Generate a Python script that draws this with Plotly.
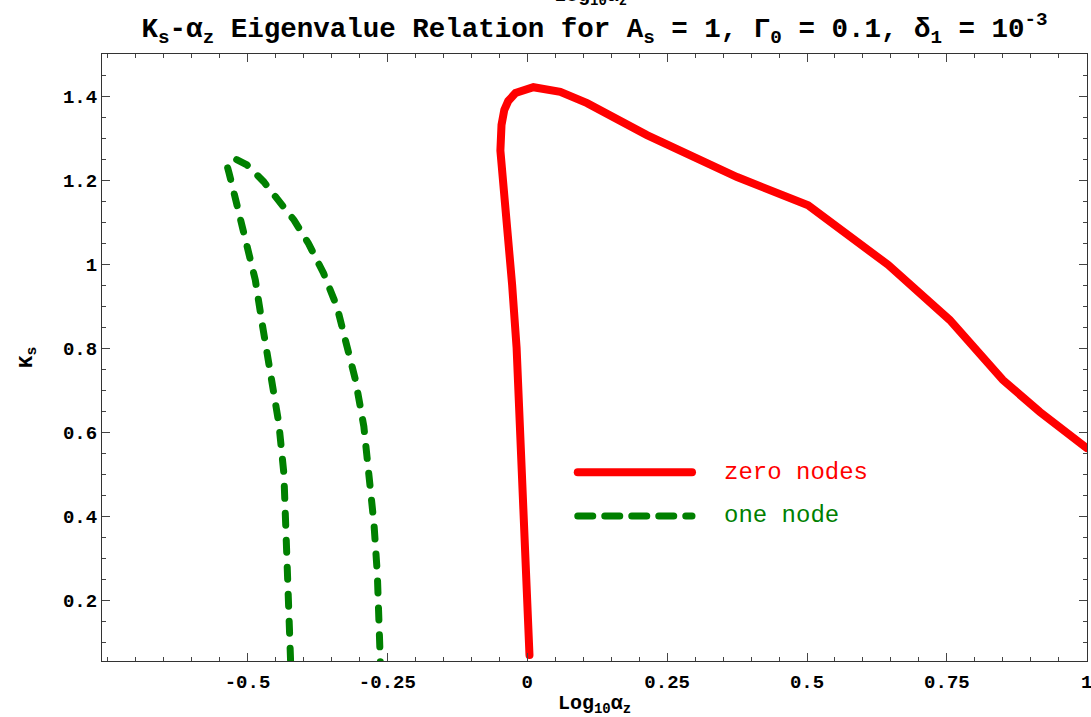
import plotly.graph_objects as go

# ---- data ----
zero_x = [0.004, 0.0, -0.005, -0.011, -0.019, -0.027, -0.036, -0.044, -0.048, -0.046,
          -0.041, -0.034, -0.021, 0.011, 0.059, 0.107, 0.214, 0.375, 0.502, 0.645,
          0.755, 0.850, 0.916, 1.0]
zero_y = [0.069, 0.200, 0.390, 0.600, 0.800, 0.950, 1.090, 1.200, 1.270, 1.331,
          1.367, 1.388, 1.407, 1.421, 1.410, 1.383, 1.307, 1.207, 1.140, 0.998,
          0.867, 0.724, 0.648, 0.562]

one_x = [-0.423, -0.426, -0.429, -0.435, -0.444, -0.453, -0.465, -0.474, -0.486, -0.498,
         -0.513, -0.524, -0.533, -0.536, -0.524, -0.501, -0.471, -0.441, -0.417, -0.391,
         -0.364, -0.340, -0.322, -0.307, -0.292, -0.283, -0.274, -0.268, -0.264, -0.2625]
one_y = [0.057, 0.184, 0.343, 0.502, 0.621, 0.700, 0.779, 0.860, 0.962, 1.033,
         1.113, 1.169, 1.217, 1.232, 1.252, 1.236, 1.196, 1.148, 1.105, 1.049,
         0.978, 0.898, 0.811, 0.724, 0.613, 0.502, 0.383, 0.264, 0.145, 0.050]

x_tickvals = [-0.5, -0.25, 0, 0.25, 0.5, 0.75, 1]
x_ticktext = ["-0.5", "-0.25", "0", "0.25", "0.5", "0.75", "1"]
y_tickvals = [0.2, 0.4, 0.6, 0.8, 1.0, 1.2, 1.4]
y_ticktext = ["0.2", "0.4", "0.6", "0.8", "1", "1.2", "1.4"]

series_names = ["zero nodes", "one node"]

RED = "#ff0000"
GREEN = "#008000"
MONO = "Liberation Mono"

fig = go.Figure()
fig.add_trace(go.Scatter(x=zero_x, y=zero_y, mode="lines", name=series_names[0],
                         line=dict(color=RED, width=8), showlegend=False))
fig.add_trace(go.Scatter(x=one_x, y=one_y, mode="lines", name=series_names[1],
                         line=dict(color=GREEN, width=7, dash="12px,15px"), showlegend=False))

axis_common = dict(
    showgrid=False, zeroline=False, showline=True, linecolor="#333333", linewidth=1.2,
    mirror="allticks", ticks="inside", ticklen=8, tickwidth=1, tickcolor="#444444",
    ticklabeloverflow="allow", automargin=False,
    tickfont=dict(family=MONO, size=19, color="black", weight="bold"),
)

fig.update_xaxes(
    range=[-0.76, 1.0004], tickmode="array", tickvals=x_tickvals, ticktext=x_ticktext,
    ticklabelstandoff=3,
    minor=dict(tickmode="linear", tick0=0, dtick=0.05, ticks="inside", ticklen=4,
               tickcolor="#444444", tickwidth=1),
    title=dict(text="Log<sub>10</sub>α<sub>z</sub>", standoff=2,
               font=dict(family=MONO, size=20, color="black", weight="bold")),
    **axis_common)
fig.update_yaxes(
    range=[0.055, 1.5], tickmode="array", tickvals=y_tickvals, ticktext=y_ticktext,
    minor=dict(tickmode="linear", tick0=0, dtick=0.05, ticks="inside", ticklen=4,
               tickcolor="#444444", tickwidth=1),
    title=dict(text="K<sub>s</sub>", standoff=24,
               font=dict(family=MONO, size=21, color="black", weight="bold")),
    **axis_common)

# legend drawn as shapes + text (paper coords)
fig.add_shape(type="line", xref="paper", yref="paper", x0=0.483, x1=0.599, y0=0.311, y1=0.311,
              line=dict(color=RED, width=8))
fig.add_shape(type="line", xref="paper", yref="paper", x0=0.483, x1=0.599, y0=0.239, y1=0.239,
              line=dict(color=GREEN, width=7, dash="15px,12px"))
fig.add_annotation(xref="paper", yref="paper", x=0.629, y=0.311, xanchor="left", yanchor="middle",
                   text=series_names[0], showarrow=False,
                   font=dict(family=MONO, size=24, color=RED))
fig.add_annotation(xref="paper", yref="paper", x=0.629, y=0.239, xanchor="left", yanchor="middle",
                   text=series_names[1], showarrow=False,
                   font=dict(family=MONO, size=24, color=GREEN))

# partially cut top frame label
fig.add_annotation(xref="paper", yref="paper", x=0.496, y=1.094, xanchor="center", yanchor="middle",
                   text="Log<sub>10</sub>α<sub>z</sub>", showarrow=False,
                   font=dict(family=MONO, size=20, color="black", weight="bold"))

fig.update_layout(
    width=1091, height=717,
    margin=dict(l=102, r=4, t=54, b=56, autoexpand=False),
    paper_bgcolor="white", plot_bgcolor="white",
    title=dict(
        text="K<sub>s</sub>-α<sub>z</sub> Eigenvalue Relation for A<sub>s</sub> = 1, "
             "Γ<sub>0</sub> = 0.1, δ<sub>1</sub> = 10<sup>-3</sup>",
        x=0.545, xanchor="center", y=0.962, yanchor="middle",
        font=dict(family=MONO, size=27.5, color="black", weight="bold")),
)

post = """
(function(){
  var gd = document.getElementById('{plot_id}');
  function fix(){
    gd.querySelectorAll('.js-line, .shapelayer path').forEach(function(p){
      p.style.strokeLinecap = 'round';
    });
  }
  fix();
  if (gd.on) gd.on('plotly_afterplot', fix);
  setTimeout(fix, 50);
})();
"""
fig.write_html("out.html", post_script=post)
